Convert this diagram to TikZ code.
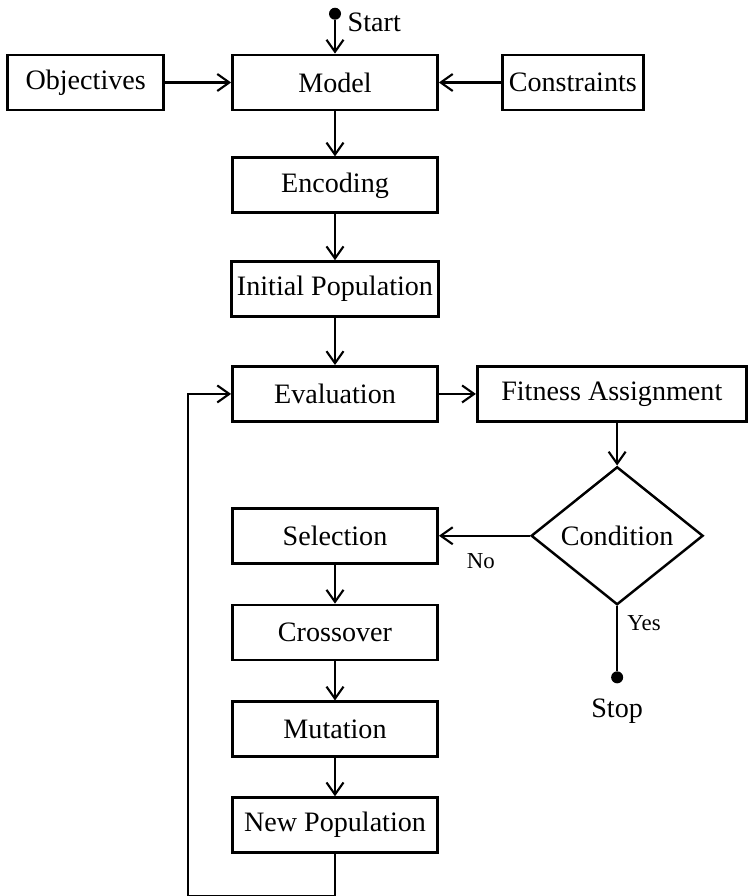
\documentclass[tikz,border=0pt]{standalone}
\usepackage{fontspec}
\setmainfont{Liberation Serif}
\usetikzlibrary{arrows.meta,positioning,shapes.geometric}
\tikzset{
  blk/.style={draw,line width=1.6pt,align=center,minimum height=1.1cm,
    inner sep=3pt,font=\fontsize{16}{19}\selectfont},
  stage/.style={blk,minimum width=4.1cm},
  test/.style={diamond,draw,line width=1.4pt,aspect=1.25,inner sep=0pt,
    minimum width=3.44cm,minimum height=2.76cm,font=\fontsize{16}{19}\selectfont},
  fl/.style={-{Straight Barb[length=2.4mm,width=3.4mm]},line width=1.2pt},
  ln/.style={line width=1.2pt},
  dot/.style={circle,fill,inner sep=0pt,minimum size=0.24cm},
  lbl/.style={font=\fontsize{13}{15}\selectfont,inner sep=1pt},
  txt/.style={font=\fontsize{16}{19}\selectfont,inner sep=2pt},
}
\begin{document}
\begin{tikzpicture}
  \useasboundingbox (0,0) rectangle (15.02,-17.92);
  % top row
  \node[stage] (model) at (6.7,-1.65) {Model};
  \node[blk,minimum width=3.12cm,left=1.32cm of model] (obj) {Objectives};
  \node[blk,minimum width=2.82cm,right=1.24cm of model] (cons) {Constraints};
  \node[dot,above=0.67cm of model] (start) {};
  \node[txt,right=0.05cm of start,yshift=-0.17cm] (startlbl) {Start};
  % main column
  \node[stage,below=0.9cm of model] (enc) {Encoding};
  \node[stage,below=0.92cm of enc] (init) {Initial Population};
  \node[stage,below=0.94cm of init] (eval) {Evaluation};
  \node[blk,minimum width=5.38cm,right=0.74cm of eval] (fit) {Fitness Assignment};
  \node[stage,below=1.68cm of eval] (sel) {Selection};
  \node[stage,below=0.78cm of sel] (cross) {Crossover};
  \node[stage,below=0.78cm of cross] (mut) {Mutation};
  \node[stage,below=0.76cm of mut] (newp) {New Population};
  % decision
  \node[test,right=1.82cm of sel] (cond) {Condition};
  \node[dot,below=1.3cm of cond] (stop) {};
  \node[txt,below=0.22cm of stop] (stoplbl) {Stop};

  \draw[fl] (start) -- (model);
  \draw[fl] (obj) -- (model);
  \draw[fl] (cons) -- (model);
  \draw[fl] (model) -- (enc);
  \draw[fl] (enc) -- (init);
  \draw[fl] (init) -- (eval);
  \draw[fl] (eval) -- (fit);
  \draw[fl] (fit.south -| cond.north) -- (cond);
  \draw[fl] (cond) -- node[lbl,below=0.3cm,pos=0.54] {No} (sel);
  \draw[ln] (cond) -- node[lbl,right=0.15cm,pos=0.26] {Yes} (stop);
  \draw[fl] (sel) -- (cross);
  \draw[fl] (cross) -- (mut);
  \draw[fl] (mut) -- (newp);
  \draw[fl] (newp.south) -- ++(0,-0.84) -| ([xshift=-0.86cm]eval.west) -- (eval.west);
\end{tikzpicture}
\end{document}
